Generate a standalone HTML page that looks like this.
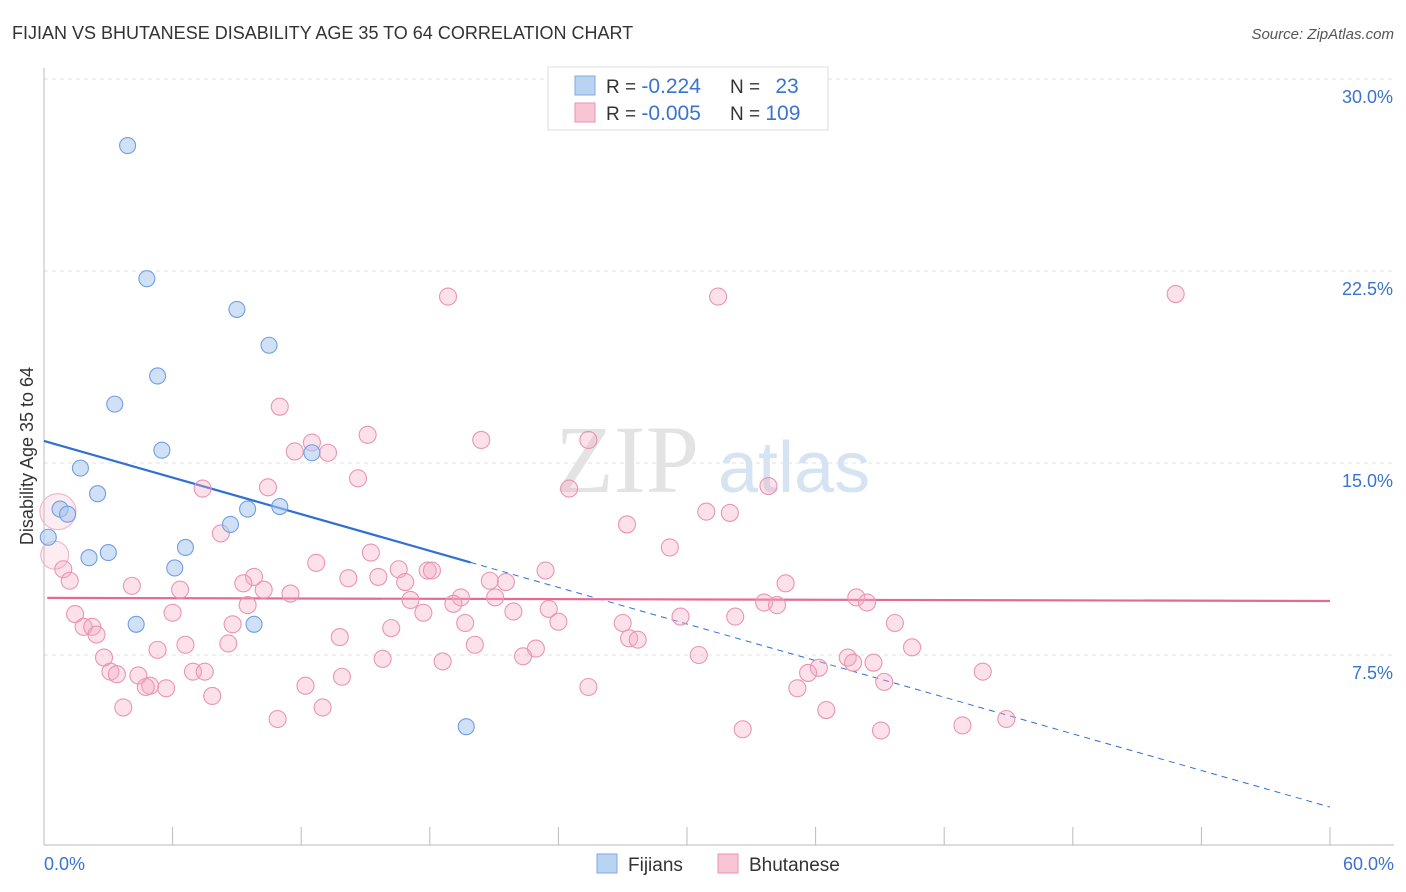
<!DOCTYPE html>
<html><head><meta charset="utf-8">
<style>
body{margin:0;background:#fff;font-family:"Liberation Sans",sans-serif;}
svg{display:block}
</style></head>
<body>
<svg id="chart" width="1406" height="892">
<text x="12" y="39" font-size="18" fill="#333">FIJIAN VS BHUTANESE DISABILITY AGE 35 TO 64 CORRELATION CHART</text>
<text x="1394" y="39" font-size="15" fill="#555" text-anchor="end" font-style="italic">Source: ZipAtlas.com</text>
<g>
<text x="555" y="492" font-size="96" fill="#ddd" font-family="Liberation Serif,serif" opacity="0.8">ZIP</text>
<text x="718" y="492" font-size="72" fill="#c5d8ee" opacity="0.7">atlas</text>
</g>
<g id="grid"></g>
<g id="axes"></g>
<g id="lines"></g>
<g id="points"></g>
<g>
<rect x="548" y="67" width="280" height="63" fill="#fff" stroke="#ddd"/>
<rect x="575" y="76" width="20" height="19" fill="#b9d3f3" stroke="#7fa8de"/>
<text x="606" y="93" font-size="19" fill="#333">R = <tspan fill="#3b73d0" font-size="21">-0.224</tspan></text>
<text x="730" y="93" font-size="19" fill="#333">N = <tspan fill="#3b73d0" dx="10" font-size="21">23</tspan></text>
<rect x="575" y="103" width="20" height="19" fill="#f9c4d4" stroke="#e995b2"/>
<text x="606" y="120" font-size="19" fill="#333">R = <tspan fill="#3b73d0" font-size="21">-0.005</tspan></text>
<text x="730" y="120" font-size="19" fill="#333">N = <tspan fill="#3b73d0" font-size="21">109</tspan></text>
</g>
<g>
<rect x="597" y="854" width="20" height="19" fill="#b9d3f3" stroke="#7fa8de"/>
<text x="628" y="871" font-size="19" fill="#333">Fijians</text>
<rect x="718" y="854" width="20" height="19" fill="#f9c4d4" stroke="#e995b2"/>
<text x="749" y="871" font-size="19" fill="#333">Bhutanese</text>
</g>
<text transform="translate(33,456) rotate(-90)" font-size="18" fill="#333" text-anchor="middle">Disability Age 35 to 64</text>
</svg>
<script>
const yTicks=[7.5,15,22.5,30];
const yTickLabels=["7.5%","15.0%","22.5%","30.0%"];
const xTickVals=[0,6,12,18,24,30,36,42,48,54,60];
const fijX=[3.9,4.8,9.0,10.5,5.3,3.3,5.5,1.7,12.5,2.5,9.5,11.0,0.75,1.1,8.7,0.2,6.6,2.1,3.0,6.1,4.3,9.8,19.7];
const fijY=[27.4,22.2,21.0,19.6,18.4,17.3,15.5,14.8,15.4,13.8,13.2,13.3,13.2,13.0,12.6,12.1,11.7,11.3,11.5,10.9,8.7,8.7,4.7];
const bhuX=[18.85,31.45,52.8,11.0,15.1,20.4,12.5,11.7,13.25,25.4,14.65,7.4,10.45,24.5,33.8,30.9,32.0,27.2,8.25,29.2,15.25,12.7,23.4,16.55,17.9,18.1,9.8,14.2,15.6,20.8,21.55,16.85,9.3,34.6,4.1,6.35,10.25,11.5,19.45,21.05,17.1,19.1,37.9,9.5,38.4,33.6,34.2,21.9,23.55,1.45,6.0,17.7,29.7,32.25,24.0,39.7,19.65,8.8,27.0,1.85,2.25,16.2,2.45,27.3,27.7,13.8,8.6,6.6,20.1,5.3,40.5,22.95,22.35,30.55,2.8,15.8,18.6,37.5,37.75,38.7,36.15,3.1,3.4,6.95,7.5,4.4,13.9,35.65,43.8,4.95,4.75,5.7,12.2,25.4,39.2,35.15,7.85,3.7,13.0,36.5,10.9,44.9,42.85,32.6,39.05,0.65,0.5,0.9,1.2];
const bhuY=[21.5,21.5,21.6,17.2,16.1,15.9,15.8,15.45,15.4,15.9,14.4,14.0,14.05,14.0,14.1,13.1,13.05,12.6,12.25,11.7,11.5,11.1,10.8,10.85,10.8,10.8,10.55,10.5,10.55,10.4,10.35,10.35,10.3,10.3,10.2,10.05,10.05,9.9,9.75,9.75,9.65,9.5,9.75,9.45,9.55,9.55,9.45,9.2,9.3,9.1,9.15,9.15,9.0,9.0,8.8,8.75,8.75,8.7,8.75,8.6,8.6,8.55,8.3,8.15,8.1,8.2,7.95,7.9,7.9,7.7,7.8,7.75,7.45,7.5,7.4,7.35,7.25,7.4,7.2,7.2,7.0,6.85,6.75,6.85,6.85,6.7,6.65,6.8,6.85,6.3,6.25,6.2,6.3,6.25,6.45,6.2,5.9,5.45,5.45,5.35,5.0,5.0,4.75,4.6,4.55,13.1,11.4,10.85,10.4];
const fijTrend=[15.86,1.56];
const bhuTrend=[9.73,9.61];
const fijSolidEnd=19.9;
const NS="http://www.w3.org/2000/svg";
const X0=44,X1=1330,Y0=847,PY=25.6;
const sx=v=>X0+(X1-X0)*v/60;
const sy=v=>Y0-v*PY;
function mk(tag,attrs,parent){const e=document.createElementNS(NS,tag);for(const k in attrs)e.setAttribute(k,attrs[k]);parent.appendChild(e);return e;}
const grid=document.getElementById('grid'),axes=document.getElementById('axes'),lines=document.getElementById('lines'),pts=document.getElementById('points');
yTicks.forEach((t,i)=>{
 const l=mk('line',{x1:X0,x2:1394,y1:sy(t),y2:sy(t),stroke:'#e2e2e2','stroke-dasharray':'4,4'},grid);
 
 
 const tx=mk('text',{x:1393,y:sy(t)+24,'font-size':18,fill:'#3b73d0','text-anchor':'end'},axes);
 tx.textContent=yTickLabels[i];
 
 
});
const ax=mk('line',{x1:X0,x2:X0,y1:68,y2:845,stroke:'#bbb'},axes);


const bx=mk('line',{x1:X0,x2:1394,y1:845,y2:845,stroke:'#bbb'},axes);


xTickVals.forEach(v=>{
 const t=mk('line',{x1:sx(v),x2:sx(v),y1:827,y2:845,stroke:'#bbb'},axes);
 
 
});
const xl0=mk('text',{x:44,y:870,'font-size':18,fill:'#3b73d0'},axes);xl0.textContent='0.0%';


const xl1=mk('text',{x:1394,y:870,'font-size':18,fill:'#3b73d0','text-anchor':'end'},axes);xl1.textContent='60.0%';


bhuX.forEach((x,i)=>{
 const big=(i===bhuX.length-4)||(i===bhuX.length-3);
 const r=(i===bhuX.length-4)?18:(i===bhuX.length-3?14:8.5);
 const c=mk('circle',{cx:sx(x),cy:sy(bhuY[i]),r:r,fill:big?'rgba(246,170,195,0.22)':'rgba(246,170,195,0.35)',stroke:big?'#f0b3c8':'#e995b2','stroke-width':1.1},pts);
 
 
});
fijX.forEach((x,i)=>{
 const c=mk('circle',{cx:sx(x),cy:sy(fijY[i]),r:8,fill:'rgba(170,200,240,0.55)',stroke:'#6f9fe0','stroke-width':1.1},pts);
 
 
});
const fy=v=>fijTrend[0]+(fijTrend[1]-fijTrend[0])*v/60;
const l1=mk('line',{x1:sx(0),y1:sy(fy(0)),x2:sx(fijSolidEnd),y2:sy(fy(fijSolidEnd)),stroke:'#2f6fd6','stroke-width':2.2},lines);


const l2=mk('line',{x1:sx(fijSolidEnd),y1:sy(fy(fijSolidEnd)),x2:sx(60),y2:sy(fy(60)),stroke:'#2f6fd6','stroke-width':1,'stroke-dasharray':'6,5'},lines);


const l3=mk('line',{x1:sx(0.15),y1:sy(bhuTrend[0]),x2:sx(60),y2:sy(bhuTrend[1]),stroke:'#e46a96','stroke-width':2.2},lines);


</script>
</body></html>
